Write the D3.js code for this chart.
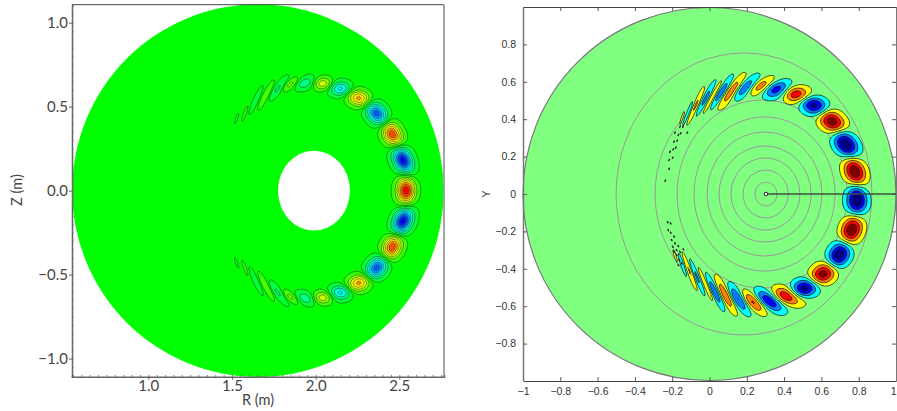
<!DOCTYPE html>
<html>
<head>
<meta charset="utf-8">
<script src="https://cdn.jsdelivr.net/npm/d3@7"></script>
<style>
html, body { margin: 0; padding: 0; background: #fff; overflow: hidden; }
svg { display: block; }
</style>
</head>
<body>
<svg id="chart" width="897" height="411"></svg>
<script>
// ---- left panel data, upper half of the R-Z plane, the lower half is its mirror image
var leftR    = [2.540, 2.521, 2.457, 2.365, 2.261, 2.150, 2.042, 1.943, 1.851, 1.777, 1.704, 1.645, 1.578, 1.528];
var leftZ    = [0.000, 0.182, 0.337, 0.460, 0.549, 0.606, 0.638, 0.642, 0.634, 0.609, 0.569, 0.539, 0.460, 0.430];
var leftAmp  = [1.05, -1.05, 0.92, -0.88, 0.72, -0.58, 0.50, -0.33, 0.30, -0.25, 0.20, -0.15, 0.12, -0.10];
var leftLong = [.054, .056, .054, .056, .053, .047, .042, .050, .042, .058, .064, .066, .040, .030];
var leftWide = [.036, .036, .036, .036, .033, .030, .026, .026, .018, .018, .015, .013, .007, .006];
var leftTilt = [-90, -65, -62, -48, -20, -5, 0, 15, 35, 50, 60, 65, 70, 70];
var leftLines = [.05, .2, .35, .5, .65, .8, .95];
var plasma = { r: 1.655, z: 0, a: 1.11 };
var hole = { r: 1.99, z: 0, ar: 0.215, az: 0.238 };

var rTicks = [1.0, 1.5, 2.0, 2.5];
var zTicks = [-1.0, -0.5, 0.0, 0.5, 1.0];

// ---- right panel data
var rightX    = [.791, .780, .732, .655, .562, .462, .364, .275, .194, .119, .062, .017, -.020, -.079, -.119, -.153, -.180,
                 .762, .696, .610, .512, .414, .319, .235, .151, .088, .029, -.017, -.069, -.108, -.147, -.180];
var rightY    = [-.032, .119, .266, .391, .475, .535, .563, .578, .569, .549, .540, .517, .512, .467, .423, .385, .342,
                 -.193, -.326, -.430, -.505, -.549, -.571, -.576, -.558, -.540, -.523, -.488, -.442, -.410, -.371, -.332];
var rightAmp  = [-1.05, 1.05, -1.05, 1.05, -1.05, 1.0, -1.0, .85, -.8, .7, -.6, .42, -.42, .42, -.36, .28, -.2,
                 1.05, -1.05, 1.05, -1.05, 1.0, -1.0, .85, -.8, .7, -.6, .42, -.42, .4, -.3, .18];
var rightLong = [.060, .060, .060, .060, .060, .062, .062, .062, .064, .070, .070, .075, .070, .075, .070, .060, .050,
                 .060, .060, .060, .060, .062, .062, .062, .064, .070, .070, .075, .070, .075, .060, .050];
var rightWide = [.037, .037, .037, .037, .035, .033, .033, .028, .026, .022, .017, .011, .011, .011, .010, .010, .008,
                 .037, .037, .037, .035, .033, .033, .028, .026, .022, .017, .011, .011, .011, .010, .010];
var rightTilt = [90, -70, -55, -40, -25, -10, 5, 20, 35, 50, 55, 60, 62, 65, 65, 68, 70,
                 68, 60, 35, 20, -10, -25, -35, -50, -60, -62, -65, -67, -68, -70, -72];

var rightLevels = [.111, .333, .556, .778];
var rightPos = ['#ffff00', '#ff8000', '#ff0000', '#800000'];
var rightNeg = ['#00ffff', '#0080ff', '#0000ff', '#000080'];

// flux surfaces
var ringX = [.303, .301, .300, .298, .295, .295, .282, .252, .185];
var ringA = [.059, .121, .185, .247, .308, .378, .456, .544, .686];
var ringB = [.064, .128, .193, .257, .332, .412, .503, .588, .754];

// leftover little contour specks
var speckX = [-.216, -.216, -.197, -.212, -.194, -.180, -.190, -.173, -.167, -.154, -.185, -.237, -.142, -.158, -.119,
              -.224, -.208, -.221, -.208, -.190, -.203, -.185, -.167, -.197, -.176, -.158, -.140, -.190, -.176, -.162, -.167, -.149];
var speckY = [.135, .182, .194, .226, .239, .248, .280, .285, .316, .325, .328, .071, .360, .360, .328,
              -.151, -.157, -.193, -.207, -.228, -.246, -.264, -.278, -.282, -.300, -.309, -.296, -.309, -.326, -.353, -.380, -.371];

var xTicksRight = [-1, -.8, -.6, -.4, -.2, 0, .2, .4, .6, .8, 1];
var yTicksRight = [-.8, -.6, -.4, -.2, 0, .2, .4, .6, .8];

var svg = d3.select('#chart');

// ---- scales
var xL = d3.scaleLinear().domain([.544, 2.767]).range([72, 444]);
var yL = d3.scaleLinear().domain([-1.108, 1.107]).range([376.7, 4.7]);
var xR = d3.scaleLinear().domain([-1, 1]).range([523, 896]);
var yR = d3.scaleLinear().domain([-1, 1]).range([381, 7]);

var jet = d3.scaleLinear()
    .domain([-1, -.5, 0, .5, 1])
    .range(['#0000ff', '#00ffff', '#00ff00', '#ffff00', '#ff0000']);

function makeLobes(xs, ys, amps, longs, wides, tilts) {
    return xs.map(function(x, i) {
        return { x: x, y: ys[i], amp: amps[i], su: longs[i], sv: wides[i], tilt: tilts[i] * Math.PI / 180 };
    });
}

// sums the lobes on a one pixel grid over the plot area
function buildField(xs, ys, lobes) {
    var x0 = Math.floor(xs.range()[0]), x1 = Math.ceil(xs.range()[1]);
    var y0 = Math.floor(ys.range()[1]), y1 = Math.ceil(ys.range()[0]);
    var n = x1 - x0 + 1, m = y1 - y0 + 1;
    var values = new Float64Array(n * m);
    lobes.forEach(function(l) {
        var c = Math.cos(l.tilt), s = Math.sin(l.tilt);
        var reach = 5 * l.su;
        for (var j = 0; j < m; j++) {
            var dy = ys.invert(y0 + j) - l.y;
            if (Math.abs(dy) > reach) continue;
            for (var i = 0; i < n; i++) {
                var dx = xs.invert(x0 + i) - l.x;
                if (Math.abs(dx) > reach) continue;
                var u = dx * c + dy * s, v = -dx * s + dy * c;
                values[i + j * n] += l.amp * Math.exp(-u * u / (2 * l.su * l.su) - v * v / (2 * l.sv * l.sv));
            }
        }
    });
    var path = d3.geoPath(d3.geoTransform({
        point: function(a, b) { this.stream.point(x0 + a - .5, y0 + b - .5); }
    }));
    return { n: n, m: m, values: values, negated: values.map(function(d) { return -d; }), path: path };
}

function contourShapes(field, values, levels) {
    return d3.contours().size([field.n, field.m]).thresholds(levels)(values);
}

//---------------------------------------------------------------------------------------
// LEFT PANEL
//---------------------------------------------------------------------------------------

var leftLobes = makeLobes(leftR, leftZ, leftAmp, leftLong, leftWide, leftTilt);
leftLobes = leftLobes.concat(leftLobes.filter(function(l) { return l.y !== 0; }).map(function(l) {
    return { x: l.x, y: -l.y, amp: l.amp, su: l.su, sv: l.sv, tilt: -l.tilt };
}));

var gL = svg.append('g').attr('class', 'left-panel');

gL.append('ellipse')
    .attr('cx', xL(plasma.r)).attr('cy', yL(plasma.z))
    .attr('rx', xL(plasma.r + plasma.a) - xL(plasma.r))
    .attr('ry', yL(plasma.z) - yL(plasma.z + plasma.a))
    .style('fill', '#00ff00');

var fieldL = buildField(xL, yL, leftLobes);
var shades = d3.range(.02, 1.001, .02);

[[fieldL.values, 1], [fieldL.negated, -1]].forEach(function(side) {
    gL.append('g').selectAll('path')
        .data(contourShapes(fieldL, side[0], shades))
      .enter().append('path')
        .attr('d', fieldL.path)
        .style('fill', function(d) { return jet(side[1] * d.value); })
        .style('stroke', 'none');
    gL.append('g').selectAll('path')
        .data(contourShapes(fieldL, side[0], leftLines))
      .enter().append('path')
        .attr('d', fieldL.path)
        .style('fill', 'none')
        .style('stroke', '#2a3a2a')
        .style('stroke-opacity', .75)
        .style('stroke-width', .7);
});

gL.append('ellipse')
    .attr('cx', xL(hole.r)).attr('cy', yL(hole.z))
    .attr('rx', xL(hole.r + hole.ar) - xL(hole.r))
    .attr('ry', yL(hole.z) - yL(hole.z + hole.az))
    .style('fill', '#fff');

// frame
gL.append('line').attr('x1', 72).attr('x2', 444).attr('y1', 4.7).attr('y2', 4.7).style('stroke', '#444').style('stroke-width', 1);
gL.append('line').attr('x1', 444).attr('x2', 444).attr('y1', 4.7).attr('y2', 376.7).style('stroke', '#888').style('stroke-width', 1.5);

function leftAxis(axis, major, minor, translate) {
    var g = gL.append('g').attr('transform', translate);
    g.call(axis.tickValues(minor).tickSize(-1.5).tickFormat(''));
    g.selectAll('line').style('stroke', '#666');
    g.select('.domain').style('stroke', '#666').style('stroke-width', 1.5);
    var m = gL.append('g').attr('transform', translate);
    m.call(axis.tickValues(major).tickSize(3).tickPadding(1).tickFormat(d3.format('.1f')));
    m.select('.domain').remove();
    m.selectAll('line').style('stroke', '#666');
    m.selectAll('text').style('font-family', 'Lato').style('font-size', '15px').style('fill', '#444');
}

leftAxis(d3.axisBottom(xL), rTicks, d3.range(.55, 2.76, .05), 'translate(0,376.7)');
leftAxis(d3.axisLeft(yL), zTicks, d3.range(-1.1, 1.101, .05), 'translate(72,0)');

gL.append('text').attr('x', 258).attr('y', 405)
    .style('text-anchor', 'middle').style('font-family', 'Lato').style('font-size', '14.5px').style('fill', '#444')
    .text('R (m)');
gL.append('text').attr('transform', 'translate(22,190) rotate(-90)')
    .style('text-anchor', 'middle').style('font-family', 'Lato').style('font-size', '14.5px').style('fill', '#444')
    .text('Z (m)');

//---------------------------------------------------------------------------------------
// RIGHT PANEL
//---------------------------------------------------------------------------------------

var gR = svg.append('g').attr('class', 'right-panel');

gR.append('circle')
    .attr('cx', xR(0)).attr('cy', yR(0)).attr('r', xR(1) - xR(0))
    .style('fill', '#80ff80')
    .style('stroke', '#777')
    .style('stroke-width', 1.2);

gR.append('g').selectAll('ellipse')
    .data(ringX)
  .enter().append('ellipse')
    .attr('cx', function(d) { return xR(d); })
    .attr('cy', yR(0))
    .attr('rx', function(d, i) { return xR(ringA[i]) - xR(0); })
    .attr('ry', function(d, i) { return yR(0) - yR(ringB[i]); })
    .style('fill', 'none')
    .style('stroke', '#9a9a9a')
    .style('stroke-width', 1);

var fieldR = buildField(xR, yR, makeLobes(rightX, rightY, rightAmp, rightLong, rightWide, rightTilt));

[[fieldR.values, rightPos], [fieldR.negated, rightNeg]].forEach(function(side) {
    gR.append('g').selectAll('path')
        .data(contourShapes(fieldR, side[0], rightLevels))
      .enter().append('path')
        .attr('d', fieldR.path)
        .style('fill', function(d, i) { return side[1][i]; })
        .style('stroke', '#111')
        .style('stroke-width', .7);
});

gR.append('g').selectAll('ellipse')
    .data(speckX)
  .enter().append('ellipse')
    .attr('transform', function(d, i) {
        return 'translate(' + xR(d) + ',' + yR(speckY[i]) + ') rotate(' + (speckY[i] > 0 ? -60 : 60) + ')';
    })
    .attr('rx', 1.4)
    .attr('ry', .8)
    .style('fill', '#222');

// frame and ticks
function rightAxis(axis, values, translate, labels) {
    var g = gR.append('g').attr('transform', translate);
    g.call(axis.tickValues(values).tickSizeInner(-4).tickSizeOuter(0).tickPadding(7)
        .tickFormat(labels ? function(d) { return d3.format('~g')(d).replace('-', '\u2212'); } : ''));
    g.selectAll('line').style('stroke', '#555');
    g.selectAll('text').style('font-family', 'Liberation Sans').style('font-size', '10.5px').style('fill', '#333');
    return g;
}

var bottomAxis = rightAxis(d3.axisBottom(xR), xTicksRight, 'translate(0,381)', true);
bottomAxis.select('.domain').style('stroke', '#444').style('stroke-width', 1);
// the last label sits against the window edge
bottomAxis.selectAll('.tick').filter(function(d) { return d === 1; }).select('text').style('text-anchor', 'end');
rightAxis(d3.axisTop(xR), xTicksRight, 'translate(0,7)', false).select('.domain').style('stroke', '#444').style('stroke-width', 1);
rightAxis(d3.axisLeft(yR), yTicksRight, 'translate(523,0)', true).select('.domain').style('stroke', '#777').style('stroke-width', 1.5);
rightAxis(d3.axisRight(yR), yTicksRight, 'translate(896,0)', false).select('.domain').style('stroke', '#777').style('stroke-width', 1);

gR.append('text').attr('transform', 'translate(490,194) rotate(-90)')
    .style('text-anchor', 'middle').style('font-family', 'Liberation Sans').style('font-size', '10.5px').style('fill', '#333')
    .text('Y');

// line out from the magnetic axis
gR.append('line')
    .attr('x1', xR(ringX[0])).attr('x2', xR(1))
    .attr('y1', yR(0)).attr('y2', yR(0))
    .style('stroke', '#3c503c')
    .style('stroke-width', 1.4);
gR.append('circle')
    .attr('cx', xR(ringX[0])).attr('cy', yR(0)).attr('r', 1.8)
    .style('fill', '#fff')
    .style('stroke', '#222')
    .style('stroke-width', 1);
</script>
</body>
</html>
